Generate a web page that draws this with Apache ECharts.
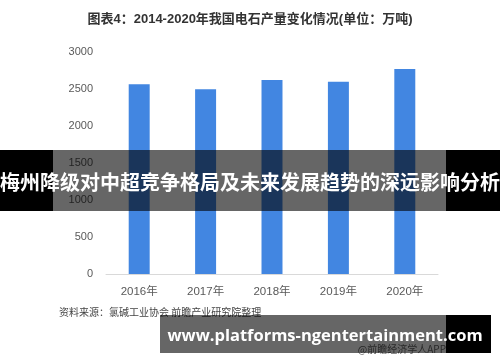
<!DOCTYPE html>
<html><head><meta charset="utf-8">
<script src="https://cdn.jsdelivr.net/npm/echarts@6/dist/echarts.min.js"></script>
<style>html,body{margin:0;padding:0;background:#fff}#c{width:500px;height:362px}</style>
</head><body><div id="c"></div>
<script>
var categories = ['2016年','2017年','2018年','2019年','2020年'];
var production = [2563, 2496, 2622, 2599, 2770];
var yTicks = [0, 500, 1000, 1500, 2000, 2500, 3000];
var titleText = '图表4：2014-2020年我国电石产量变化情况(单位：万吨)';
var bannerText = '梅州降级对中超竞争格局及未来发展趋势的深远影响分析';
var urlText = 'www.platforms-ngentertainment.com';
var sourceText = '资料来源：氯碱工业协会 前瞻产业研究院整理';
var creditText = '@前瞻经济学人APP';

var chart = echarts.init(document.getElementById('c'), null, {renderer:'canvas'});
var font = '"Liberation Sans","Noto Sans CJK SC",sans-serif';
chart.setOption({
  animation:false,
  backgroundColor:'#fff',
  title:{text:titleText,left:'center',top:8,textStyle:{fontSize:13,fontWeight:'bold',color:'#333',fontFamily:font}},
  grid:{left:106,right:62,top:52,bottom:88},
  xAxis:{type:'category',data:categories,
    axisLine:{lineStyle:{color:'#d9d9d9'}},axisTick:{show:false},
    axisLabel:{color:'#595959',fontSize:11.5,margin:12,fontFamily:font}},
  yAxis:{type:'value',min:yTicks[0],max:yTicks[yTicks.length-1],interval:yTicks[1]-yTicks[0],
    axisLine:{show:false},axisTick:{show:false},splitLine:{show:false},
    axisLabel:{color:'#595959',fontSize:11,margin:13,fontFamily:font,formatter:function(v){return String(v);}}},
  series:[{type:'bar',data:production,barWidth:'31.6%',itemStyle:{color:'#4286E1'}}],
  graphic:[
    {type:'rect',shape:{x:0,y:150,width:53,height:61},style:{fill:'#000'},z:100},
    {type:'rect',shape:{x:53,y:150,width:393,height:61},style:{fill:'rgba(0,0,0,0.6)'},z:100},
    {type:'rect',shape:{x:446,y:150,width:54,height:61},style:{fill:'#000'},z:100},
    {type:'text',x:250,y:182,style:{text:bannerText,fill:'#fff',font:'bold 20px "Noto Sans CJK SC",sans-serif',align:'center',verticalAlign:'middle'},z:101},
    {type:'text',x:59,y:312,style:{text:sourceText,fill:'#444',font:'10px "Noto Sans CJK SC",sans-serif',align:'left',verticalAlign:'middle'},z:90},
    {type:'text',x:446,y:349,style:{text:creditText,fill:'#666',font:'10px "Noto Sans CJK SC",sans-serif',align:'right',verticalAlign:'middle'},z:90},
    {type:'rect',shape:{x:160,y:315,width:286,height:38},style:{fill:'rgba(0,0,0,0.6)'},z:100},
    {type:'rect',shape:{x:446,y:315,width:45,height:38},style:{fill:'#000'},z:100},
    {type:'text',x:325,y:336,style:{text:urlText,fill:'#fff',font:'bold 16.5px "Open Sans","DejaVu Sans",sans-serif',align:'center',verticalAlign:'middle'},z:101}
  ]
});
</script></body></html>
